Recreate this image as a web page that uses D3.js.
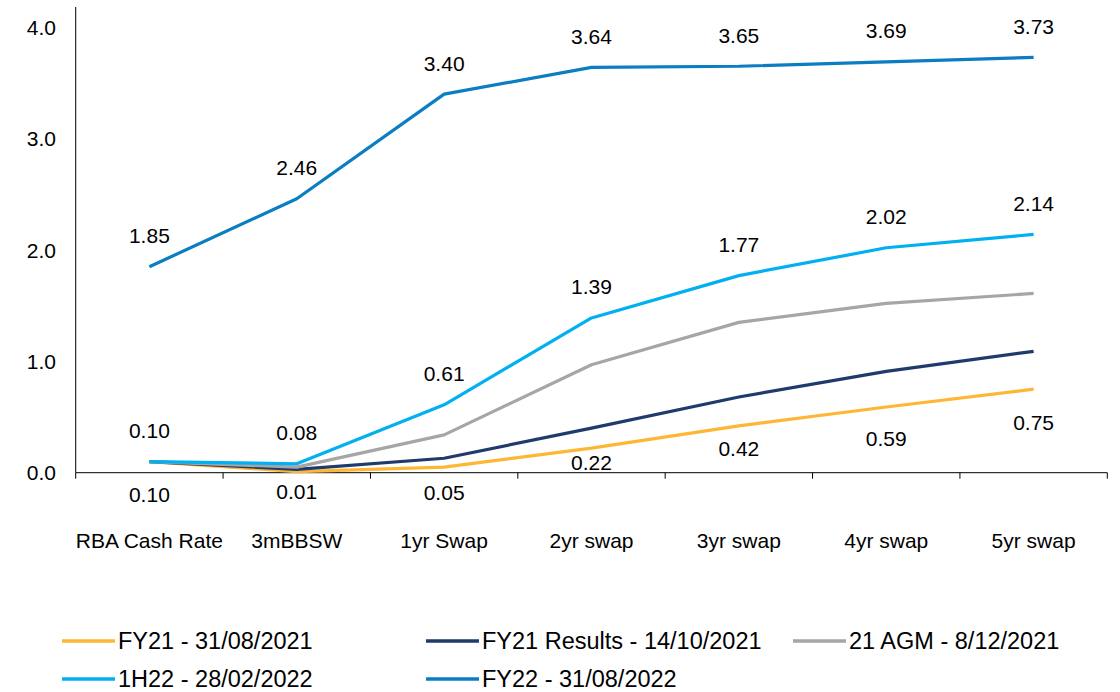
<!DOCTYPE html>
<html>
<head>
<meta charset="utf-8">
<script src="https://cdn.jsdelivr.net/npm/d3@7"></script>
<style>
  html, body { margin: 0; padding: 0; background: #fff; }
  svg text { font-family: "Liberation Sans", Arial, sans-serif; fill: #000; }
</style>
</head>
<body>
<svg id="chart" width="1120" height="692"></svg>
<script>
// ---- Data ----
const categories = ["RBA Cash Rate", "3mBBSW", "1yr Swap", "2yr swap", "3yr swap", "4yr swap", "5yr swap"];
const seriesNames = ["FY21 - 31/08/2021", "FY21 Results - 14/10/2021", "21 AGM - 8/12/2021", "1H22 - 28/02/2022", "FY22 - 31/08/2022"];
const fy21 = [0.10, 0.01, 0.05, 0.22, 0.42, 0.59, 0.75];
const fy21Results = [0.10, 0.03, 0.13, 0.40, 0.68, 0.91, 1.09];
const agm21 = [0.10, 0.05, 0.34, 0.97, 1.35, 1.52, 1.61];
const h122 = [0.10, 0.08, 0.61, 1.39, 1.77, 2.02, 2.14];
const fy22 = [1.85, 2.46, 3.40, 3.64, 3.65, 3.69, 3.73];
const yTicks = [0, 1, 2, 3, 4];

// ---- Layout / style (not data) ----
const colors = ["#FDB735", "#1F3A6B", "#A6A6A6", "#00B0F0", "#0A7DC3"];
const fy21LabelDy = [40, 27, 32, 21, 30, 38, 40]; // manual label placement below FY21 line

const svg = d3.select("#chart");
const x0 = 75.7, x1 = 1107.3, yBase = 472.7;

const x = d3.scaleBand().domain(categories).range([x0, x1]).padding(0);
const y = d3.scaleLinear().domain([0, 4]).range([yBase, 27.3]);
const cx = c => x(c) + x.bandwidth() / 2;

// Y axis
svg.append("line").attr("x1", x0).attr("x2", x0).attr("y1", 7).attr("y2", yBase)
  .attr("stroke", "#000").attr("stroke-width", 1);
svg.append("g").selectAll("text").data(yTicks).join("text")
  .attr("x", 56).attr("y", d => y(d)).attr("dy", "0.36em")
  .attr("text-anchor", "end").attr("font-size", 21)
  .text(d => d3.format(".1f")(d));

// X axis
svg.append("line").attr("x1", x0).attr("x2", x1).attr("y1", yBase).attr("y2", yBase)
  .attr("stroke", "#000").attr("stroke-width", 1);
const tickPos = categories.map(c => x(c)).concat([x1]);
svg.append("g").selectAll("line").data(tickPos).join("line")
  .attr("x1", d => d).attr("x2", d => d).attr("y1", yBase).attr("y2", yBase + 6)
  .attr("stroke", "#000").attr("stroke-width", 1);
svg.append("g").selectAll("text").data(categories).join("text")
  .attr("x", d => cx(d)).attr("y", 540).attr("dy", "0.36em")
  .attr("text-anchor", "middle").attr("font-size", 21)
  .text(d => d);

// Lines
const allSeries = [fy21, fy21Results, agm21, h122, fy22];
const line = d3.line().x((d, i) => cx(categories[i])).y(d => y(d));
svg.append("g").selectAll("path").data(allSeries).join("path")
  .attr("d", d => line(d))
  .attr("fill", "none")
  .attr("stroke", (d, i) => colors[i])
  .attr("stroke-width", 3.2)
  .attr("stroke-linejoin", "round");

// Data labels
function labels(vals, dyFn) {
  svg.append("g").selectAll("text").data(vals).join("text")
    .attr("x", (d, i) => cx(categories[i]))
    .attr("y", (d, i) => y(d) + dyFn(i))
    .attr("dy", "0.36em")
    .attr("text-anchor", "middle").attr("font-size", 21)
    .text(d => d3.format(".2f")(d));
}
labels(fy22, () => -31);
labels(h122, () => -31);
labels(fy21, i => fy21LabelDy[i] - 7);

// Legend
const legendItems = seriesNames.map((n, i) => ({ name: n, color: colors[i], col: i % 3, row: Math.floor(i / 3) }));
const colX = [62, 426, 793];
const rowY = [641, 679];
const lg = svg.append("g").selectAll("g").data(legendItems).join("g")
  .attr("transform", d => `translate(${colX[d.col]},${rowY[d.row]})`);
lg.append("line").attr("x1", 0).attr("x2", 53).attr("y1", 0).attr("y2", 0)
  .attr("stroke", d => d.color).attr("stroke-width", 3.5);
lg.append("text").attr("x", 56).attr("y", 0).attr("dy", "0.36em")
  .attr("font-size", 23.5).text(d => d.name);
</script>
</body>
</html>
